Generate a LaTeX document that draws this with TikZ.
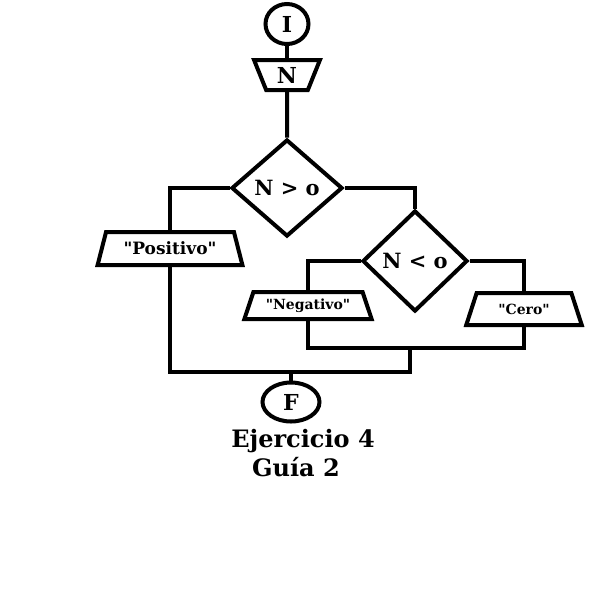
\documentclass[tikz,border=0pt]{standalone}
\usepackage{fontspec}
\setmainfont{DejaVu Serif}[Ligatures=TeXOff]
\usetikzlibrary{shapes.geometric}
\tikzset{
  base/.style={draw=black, line width=4pt, inner sep=0pt, font=\bfseries},
  term/.style={base, ellipse},
  inbox/.style={base, trapezium, trapezium stretches=true, shape border rotate=180},
  outbox/.style={base, trapezium, trapezium stretches=true},
  decision/.style={base, diamond},
  conn/.style={line width=4pt}
}
\begin{document}
\begin{tikzpicture}[x=1pt,y=-1pt]
\useasboundingbox[fill=white] (0,0) rectangle (616,614);
\node[term, minimum width=43pt, minimum height=40pt, font=\bfseries\fontsize{22}{24}\selectfont] (I) at (287,24) {I};
\node[inbox, minimum width=66pt, minimum height=30pt, trapezium left angle=70, trapezium right angle=70, font=\bfseries\fontsize{22}{24}\selectfont] (N) at (287,75) {N};
\node[decision, minimum width=111pt, minimum height=97pt, font=\bfseries\fontsize{21}{24}\selectfont] (d1) at (287,188) {N > o};
\node[outbox, minimum width=145pt, minimum height=33pt, trapezium left angle=65, trapezium right angle=65, font=\bfseries\fontsize{17}{19}\selectfont] (pos) at (170,248.5) {"Positivo"};
\node[decision, minimum width=105pt, minimum height=101pt, font=\bfseries\fontsize{21}{24}\selectfont] (d2) at (415,261) {N < o};
\node[outbox, minimum width=128pt, minimum height=27pt, trapezium left angle=63, trapezium right angle=63, font=\bfseries\fontsize{14}{16}\selectfont] (neg) at (308,305.5) {"Negativo"};
\node[outbox, minimum width=116pt, minimum height=32pt, trapezium left angle=62, trapezium right angle=62, font=\bfseries\fontsize{14}{16}\selectfont] (cero) at (524,309) {"Cero"};
\node[term, minimum width=57pt, minimum height=39pt, font=\bfseries\fontsize{22}{24}\selectfont] (F) at (291,402) {F};
\node[font=\bfseries\fontsize{24}{26}\selectfont, align=center, inner sep=0pt] (t1) at (303,441) {Ejercicio 4};
\node[font=\bfseries\fontsize{24}{26}\selectfont, align=center, inner sep=0pt] (t2) at (296,467) {Guía 2};
\coordinate (j1) at (410,348);
\coordinate (j2) at (410,372);
\draw[conn] (I) -- (N);
\draw[conn] (N) -- (d1);
\draw[conn] (d1.west) -| (pos.north);
\draw[conn] (d1.east) -| (d2.north);
\draw[conn] (d2.west) -| (neg.north);
\draw[conn] (d2.east) -| (cero.north);
\draw[conn] (neg.south) -- (neg.south |- j1) -- (cero.south |- j1) -- (cero.south);
\draw[conn] (pos.south) |- (j2) -- (j1);
\draw[conn] (F.north |- j2) -- (F.north);
\end{tikzpicture}
\end{document}
